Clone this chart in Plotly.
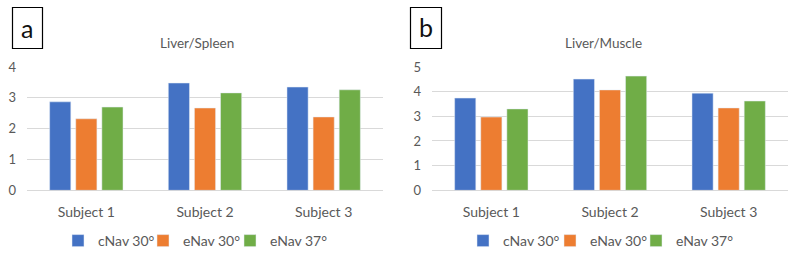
import plotly.graph_objects as go
from plotly.subplots import make_subplots

categories = ["Subject 1", "Subject 2", "Subject 3"]
series_names = ["cNav 30°", "eNav 30°", "eNav 37°"]
colors = ["#4472C4", "#ED7D31", "#70AD47"]

spleen_cnav30 = [2.87, 3.48, 3.35]
spleen_enav30 = [2.32, 2.67, 2.38]
spleen_enav37 = [2.70, 3.16, 3.26]

muscle_cnav30 = [3.74, 4.51, 3.94]
muscle_enav30 = [2.97, 4.07, 3.34]
muscle_enav37 = [3.30, 4.63, 3.62]

W, H = 801, 256
FONT = "Lato"
GREY = "#595959"

fig = make_subplots(rows=1, cols=2)

spleen = [spleen_cnav30, spleen_enav30, spleen_enav37]
muscle = [muscle_cnav30, muscle_enav30, muscle_enav37]
legend_ids = ["legend", "legend2", "legend3", "legend4", "legend5", "legend6"]
for i, name in enumerate(series_names):
    fig.add_trace(go.Bar(x=categories, y=spleen[i], name=name, marker_color=colors[i],
                         legend=legend_ids[i], showlegend=True), row=1, col=1)
for i, name in enumerate(series_names):
    fig.add_trace(go.Bar(x=categories, y=muscle[i], name=name, marker_color=colors[i],
                         legend=legend_ids[3 + i], showlegend=True), row=1, col=2)

ydom = [(H - 190.3) / H, (H - 67) / H]
xax = dict(showgrid=False, showline=False, ticks="", automargin=False,
           ticklabelstandoff=12, tickfont=dict(size=14, color=GREY))
yax = dict(dtick=1, gridcolor="#D9D9D9", gridwidth=1, zeroline=True,
           zerolinecolor="#D9D9D9", zerolinewidth=1, showline=False, ticks="",
           automargin=False, ticklabelstandoff=10, tickfont=dict(size=13, color=GREY))

# legend left edges (px) so that each square sits near the reference position
legend_x_px = [58, 143, 230, 463, 550, 636]
legend_layout = {}
for lid, xp in zip(legend_ids, legend_x_px):
    legend_layout[lid] = dict(orientation="h", xref="paper", yref="container",
                              x=xp / W, xanchor="left", y=(H - 241) / H, yanchor="middle",
                              font=dict(size=14, color=GREY), itemwidth=30,
                              bgcolor="rgba(0,0,0,0)")

def note(text, xp, yp, size, color):
    return dict(text=text, x=xp / W, y=(H - yp) / H, xref="paper", yref="paper",
                xanchor="center", yanchor="middle", showarrow=False,
                font=dict(family=FONT, size=size, color=color))

fig.update_layout(
    width=W, height=H,
    margin=dict(l=0, r=0, t=0, b=0, autoexpand=False),
    paper_bgcolor="white", plot_bgcolor="white",
    barmode="group", bargap=0.34, bargroupgap=0.19,
    font=dict(family=FONT, size=13, color=GREY),
    xaxis=dict(domain=[27 / W, 383 / W], **xax),
    xaxis2=dict(domain=[432 / W, 788 / W], **xax),
    yaxis=dict(domain=ydom, range=[0, 4], **yax),
    yaxis2=dict(domain=ydom, range=[0, 5], **yax),
    shapes=[
        dict(type="rect", xref="paper", yref="paper", x0=12.5 / W, x1=42.5 / W,
             y0=(H - 48.5) / H, y1=(H - 7.5) / H, line=dict(color="black", width=1.2)),
        dict(type="rect", xref="paper", yref="paper", x0=410.5 / W, x1=441.5 / W,
             y0=(H - 48.5) / H, y1=(H - 7.5) / H, line=dict(color="black", width=1.2)),
    ],
    annotations=[
        note("a", 27, 28, 25, "#111111"),
        note("b", 426, 27, 25, "#111111"),
        note("Liver/Spleen", 197, 43, 13.5, GREY),
        note("Liver/Muscle", 603, 43, 13.5, GREY),
    ],
    **legend_layout,
)

fig.write_html("out.html", config={"displayModeBar": False},
               post_script="document.body.style.margin='0';")
